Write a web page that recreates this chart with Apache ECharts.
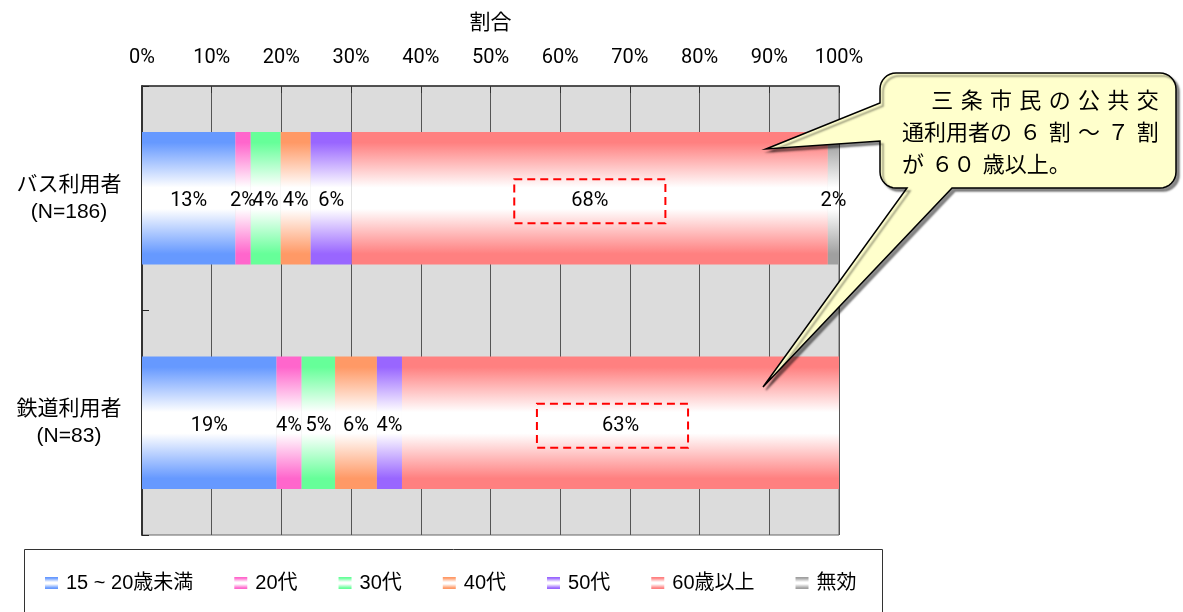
<!DOCTYPE html>
<html>
<head>
<meta charset="utf-8">
<script src="https://cdn.jsdelivr.net/npm/echarts@6/dist/echarts.min.js"></script>
<style>
html,body{margin:0;padding:0;background:#fff}
#main{width:1183px;height:612px}
</style>
</head>
<body>
<div id="main"></div>
<script>
// 利用者区分と年代
var userTypes = ['バス利用者\n(N=186)', '鉄道利用者\n(N=83)'];
var ageGroups = ['15 ~ 20歳未満', '20代', '30代', '40代', '50代', '60歳以上', '無効'];
// 割合(%)
var busPct  = [13.4, 2.2, 4.3, 4.3, 5.9, 68.3, 1.6];
var railPct = [19.3, 3.6, 4.8, 6.0, 3.6, 62.7, 0];
var pctTicks = [0, 10, 20, 30, 40, 50, 60, 70, 80, 90, 100];

var groupColors = ['#6699FF', '#FF66CC', '#66FF99', '#FF9966', '#9966FF', '#FF8080', '#A0A0A0'];
var narrow = 'Liberation Sans Narrow, Roboto, Noto Sans CJK JP, sans-serif';
var jp = 'Liberation Sans, Noto Sans CJK JP, sans-serif';

function fade(c) {
    return new echarts.graphic.LinearGradient(0, 0, 0, 1, [
        {offset: 0, color: c}, {offset: 0.08, color: c},
        {offset: 0.42, color: '#FFFFFF'}, {offset: 0.58, color: '#FFFFFF'},
        {offset: 0.92, color: c}, {offset: 1, color: c}
    ]);
}

var series = ageGroups.map(function (name, i) {
    var label = {
        show: true, position: 'inside', color: '#000', fontFamily: narrow, fontSize: 20,
        lineHeight: 20, offset: [0, 3], textBorderWidth: 0,
        formatter: function (p) { return p.value > 0 ? Math.round(p.value) + '%' : ''; }
    };
    var data = [busPct[i], railPct[i]];
    if (name === '60歳以上') {   // 強調の赤い点線枠
        label.borderColor = '#FF0000';
        label.borderWidth = 2;
        label.borderType = [8, 5];
        label.padding = [12, 57];
        data = [
            {value: busPct[i]},
            {value: railPct[i], label: {padding: [12, 49, 12, 65], offset: [-8, 3]}}
        ];
    }
    return {
        name: name, type: 'bar', stack: 'all', barWidth: '59%',
        itemStyle: {color: fade(groupColors[i])},
        label: label,
        emphasis: {disabled: true},
        data: data
    };
});

// 吹き出しの輪郭
function callout(x0, y0, x1, y1, r, leftBase, leftTip, bottomBase, bottomTip) {
    var pts = [];
    function arc(cx, cy, a0, a1) {
        for (var k = 0; k <= 8; k++) {
            var a = (a0 + (a1 - a0) * k / 8) * Math.PI / 180;
            pts.push([cx + r * Math.cos(a), cy + r * Math.sin(a)]);
        }
    }
    arc(x1 - r, y0 + r, -90, 0);
    arc(x1 - r, y1 - r, 0, 90);
    pts.push([bottomBase[1], y1], bottomTip, [bottomBase[0], y1]);
    arc(x0 + r, y1 - r, 90, 180);
    pts.push([x0, leftBase[1]], leftTip, [x0, leftBase[0]]);
    arc(x0 + r, y0 + r, 180, 270);
    return pts;
}

var chart = echarts.init(document.getElementById('main'));
chart.setOption({
    animation: false,
    color: groupColors,
    grid: {
        left: 142, right: 344, top: 86, bottom: 77,
        show: true, backgroundColor: '#DCDCDC', borderColor: '#666', borderWidth: 1
    },
    xAxis: {
        type: 'value', position: 'top',
        min: pctTicks[0], max: pctTicks[pctTicks.length - 1], interval: pctTicks[1] - pctTicks[0],
        name: '割合', nameLocation: 'middle', nameGap: 52,
        nameTextStyle: {color: '#000', fontSize: 21, lineHeight: 22, fontFamily: jp},
        axisLine: {show: true, lineStyle: {color: '#333', width: 1.5}},
        axisTick: {show: true, inside: true, length: 7, lineStyle: {color: '#333'}},
        axisLabel: {color: '#000', fontSize: 20, lineHeight: 20, fontFamily: narrow, margin: 18,
            formatter: '{value}%'},
        splitLine: {show: true, lineStyle: {color: '#555', width: 1}}
    },
    yAxis: {
        type: 'category', inverse: true, data: userTypes,
        axisLine: {show: true, lineStyle: {color: '#333', width: 2}},
        axisTick: {show: true, inside: true, length: 7, lineStyle: {color: '#222'}},
        axisLabel: {color: '#000', fontSize: 21, lineHeight: 27, fontFamily: jp,
            align: 'center', margin: 73}
    },
    legend: {
        left: 45, top: 572, padding: 0,
        itemWidth: 13, itemHeight: 12, itemGap: 41, icon: 'rect',
        textStyle: {color: '#000', fontSize: 20, lineHeight: 22, fontFamily: jp, padding: [0, 0, 0, 3]},
        data: ageGroups
    },
    graphic: [
        {
            type: 'rect', silent: true, z: 0,
            shape: {x: 24.5, y: 549.5, width: 858, height: 80},
            style: {fill: 'none', stroke: '#333', lineWidth: 1}
        },
        {
            type: 'polygon', silent: true, z: 100,
            shape: {points: callout(880, 73, 1176, 188, 16, [103, 141], [766, 149], [907, 952], [763, 387])},
            style: {fill: '#FFFFCC', stroke: '#000', lineWidth: 1.5,
                shadowColor: 'rgba(0,0,0,0.45)', shadowBlur: 2, shadowOffsetX: 3, shadowOffsetY: 3}
        },
        {
            type: 'text', silent: true, z: 101,
            style: {
                text: '\u3000\u2004三\u2004条\u2004市\u2004民\u2004の\u2004公\u2004共\u2004交\n' +
                      '通利用者の\u2004６\u2004割\u2004～\u2004７\u2004割\n' +
                      'が\u2004６０\u2004歳以上。',
                x: 902, y: 85.5, fontSize: 22, lineHeight: 32, fontFamily: jp,
                fill: '#000', verticalAlign: 'top', align: 'left'
            }
        }
    ],
    series: series
});
</script>
</body>
</html>
